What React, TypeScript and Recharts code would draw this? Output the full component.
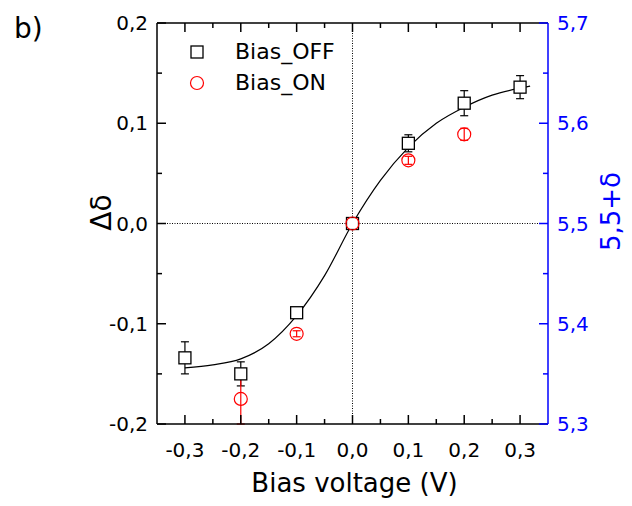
import React from 'react';
import {
  ComposedChart, Scatter, Line, XAxis, YAxis, ErrorBar, ReferenceLine,
} from 'recharts';

// measured points: x = bias voltage (V), y = Δδ, err = half error bar
const biasOff = [
  { x: -0.3, y: -0.134, err: 0.016 },
  { x: -0.2, y: -0.15, err: 0.012 },
  { x: -0.1, y: -0.089, err: 0.004 },
  { x: 0.0, y: 0.0, err: 0.0 },
  { x: 0.1, y: 0.08, err: 0.0085 },
  { x: 0.2, y: 0.12, err: 0.0125 },
  { x: 0.3, y: 0.136, err: 0.0115 },
];

const biasOn = [
  { x: -0.2, y: -0.175, err: 0.025 },
  { x: -0.1, y: -0.11, err: 0.003 },
  { x: 0.0, y: 0.0, err: 0.0 },
  { x: 0.1, y: 0.063, err: 0.004 },
  { x: 0.2, y: 0.089, err: 0.006 },
];

// fitted curve
const fitCurve = [
  { x: -0.3, y: -0.144 },
  { x: -0.25, y: -0.141 },
  { x: -0.2, y: -0.135 },
  { x: -0.15, y: -0.12 },
  { x: -0.1, y: -0.092 },
  { x: -0.05, y: -0.052 },
  { x: 0.0, y: 0.0 },
  { x: 0.05, y: 0.043 },
  { x: 0.1, y: 0.076 },
  { x: 0.15, y: 0.1 },
  { x: 0.2, y: 0.116 },
  { x: 0.25, y: 0.128 },
  { x: 0.3, y: 0.135 },
  { x: 0.318, y: 0.137 },
];

const xTicks = [-0.3, -0.25, -0.2, -0.15, -0.1, -0.05, 0, 0.05, 0.1, 0.15, 0.2, 0.25, 0.3];
const leftTicks = [-0.2, -0.15, -0.1, -0.05, 0, 0.05, 0.1, 0.15, 0.2];
const rightTicks = [5.3, 5.35, 5.4, 5.45, 5.5, 5.55, 5.6, 5.65, 5.7];

const BLUE = '#0000ff';
const FONT = '"DejaVu Sans", Verdana, sans-serif';

const isMajor = (v: number) => Math.abs(Math.round(v * 10) - v * 10) < 1e-6;
const fmt = (v: number) => v.toFixed(1).replace('.', ',');

const makeTick = (side: 'bottom' | 'top' | 'left' | 'right', color: string, showLabel: boolean) =>
  (props: any) => {
    const { x, y, payload } = props;
    const v = payload.value as number;
    const len = isMajor(v) ? 9 : 5;
    let line;
    let label = null;
    if (side === 'bottom') {
      line = <line x1={x} y1={y} x2={x} y2={y - len} stroke={color} strokeWidth={1.5} />;
      if (showLabel && isMajor(v)) label = <text x={x} y={y + 33} textAnchor="middle" fontSize={20} fill={color}>{fmt(v)}</text>;
    } else if (side === 'top') {
      line = <line x1={x} y1={y} x2={x} y2={y + len} stroke={color} strokeWidth={1.5} />;
    } else if (side === 'left') {
      line = <line x1={x} y1={y} x2={x + len} y2={y} stroke={color} strokeWidth={1.5} />;
      if (showLabel && isMajor(v)) label = <text x={x - 9} y={y + 7} textAnchor="end" fontSize={20} fill={color}>{fmt(v)}</text>;
    } else {
      line = <line x1={x} y1={y} x2={x - len} y2={y} stroke={color} strokeWidth={1.5} />;
      if (showLabel && isMajor(v)) label = <text x={x + 9} y={y + 7} textAnchor="start" fontSize={20} fill={color}>{fmt(v)}</text>;
    }
    return <g>{line}{label}</g>;
  };

// axis titles placed relative to the axis box recharts hands over
const bottomTitle = ({ viewBox }: any) => (
  <text x={viewBox.x + viewBox.width / 2 + 2} y={viewBox.y + 68} textAnchor="middle" fontSize={26} fill="#000">
    Bias voltage (V)
  </text>
);
const leftTitle = ({ viewBox }: any) => {
  const cx = viewBox.x + 4;
  const cy = viewBox.y + viewBox.height / 2 - 11;
  return (
    <text x={cx} y={cy} transform={`rotate(-90 ${cx} ${cy})`} textAnchor="middle" dominantBaseline="central" fontSize={28} fill="#000">
      Δδ
    </text>
  );
};
const rightTitle = ({ viewBox }: any) => {
  const cx = viewBox.x + 63;
  const cy = viewBox.y + viewBox.height / 2 - 12;
  return (
    <text x={cx} y={cy} transform={`rotate(-90 ${cx} ${cy})`} textAnchor="middle" dominantBaseline="central" fontSize={26} fill={BLUE}>
      5,5+δ
    </text>
  );
};

const Square = (props: any) => {
  const { cx, cy } = props;
  return <rect x={cx - 6} y={cy - 6} width={12} height={12} fill="#fff" stroke="#000" strokeWidth={1.3} />;
};

const Circle = (props: any) => {
  const { cx, cy } = props;
  return <circle cx={cx} cy={cy} r={6.5} fill="none" stroke="#ff0000" strokeWidth={1.2} />;
};

const LegendBox = () => (
  <div style={{ position: 'absolute', left: 185, top: 36, fontFamily: FONT, fontSize: 22, color: '#000', lineHeight: '31px' }}>
    <div style={{ display: 'flex', alignItems: 'center' }}>
      <svg width={50} height={20}><rect x={6} y={4} width={12} height={12} fill="#fff" stroke="#000" strokeWidth={1.3} /></svg>
      <span>Bias_OFF</span>
    </div>
    <div style={{ display: 'flex', alignItems: 'center' }}>
      <svg width={50} height={20}><circle cx={12} cy={10} r={6.5} fill="none" stroke="#ff0000" strokeWidth={1.2} /></svg>
      <span>Bias_ON</span>
    </div>
  </div>
);

export default function App() {
  return (
    <div style={{ position: 'absolute', left: 0, top: 0, width: 632, height: 506, background: '#fff', fontFamily: FONT }}>
      <div style={{ position: 'absolute', left: 14, top: 12, fontSize: 28, color: '#000' }}>b)</div>
      <ComposedChart width={632} height={506} margin={{ top: 0, right: 24, bottom: 52, left: 97 }} style={{ fontFamily: FONT }}>
        <XAxis xAxisId="b" dataKey="x" type="number" orientation="bottom" domain={[-0.35, 0.35]} ticks={xTicks}
          interval={0} height={30} tickSize={0} tickMargin={0} tickLine={false} allowDataOverflow
          axisLine={{ stroke: '#000', strokeWidth: 1.5 }} tick={makeTick('bottom', '#000', true)}
          label={{ content: bottomTitle }} />
        <XAxis xAxisId="t" dataKey="x" type="number" orientation="top" domain={[-0.35, 0.35]} ticks={xTicks}
          interval={0} height={23} tickSize={0} tickMargin={0} tickLine={false} allowDataOverflow
          axisLine={{ stroke: '#000', strokeWidth: 1.5 }} tick={makeTick('top', '#000', false)} />
        <YAxis yAxisId="l" type="number" orientation="left" domain={[-0.2, 0.2]} ticks={leftTicks}
          interval={0} width={60} tickSize={0} tickMargin={0} tickLine={false} allowDataOverflow
          axisLine={{ stroke: '#000', strokeWidth: 1.5 }} tick={makeTick('left', '#000', true)}
          label={{ content: leftTitle }} />
        <YAxis yAxisId="r" type="number" orientation="right" domain={[5.3, 5.7]} ticks={rightTicks}
          interval={0} width={60} tickSize={0} tickMargin={0} tickLine={false} allowDataOverflow
          axisLine={{ stroke: BLUE, strokeWidth: 1.5 }} tick={makeTick('right', BLUE, true)}
          label={{ content: rightTitle }} />
        <ReferenceLine xAxisId="b" yAxisId="l" x={0} stroke="#000" strokeWidth={1} strokeDasharray="1 1.5" />
        <ReferenceLine xAxisId="b" yAxisId="l" y={0} stroke="#000" strokeWidth={1} strokeDasharray="1 1.5" />
        <Line xAxisId="b" yAxisId="l" data={fitCurve} dataKey="y" type="monotone" dot={false} stroke="#000"
          strokeWidth={1.2} legendType="none" isAnimationActive={false} />
        <Scatter xAxisId="b" yAxisId="l" name="Bias_OFF" data={biasOff} dataKey="y" shape={<Square />} isAnimationActive={false}>
          <ErrorBar dataKey="err" direction="y" width={4} stroke="#000" strokeWidth={1.2} />
        </Scatter>
        <Scatter xAxisId="b" yAxisId="l" name="Bias_ON" data={biasOn} dataKey="y" shape={<Circle />} isAnimationActive={false}>
          <ErrorBar dataKey="err" direction="y" width={4} stroke="#ff0000" strokeWidth={1.2} />
        </Scatter>
      </ComposedChart>
      <LegendBox />
    </div>
  );
}
